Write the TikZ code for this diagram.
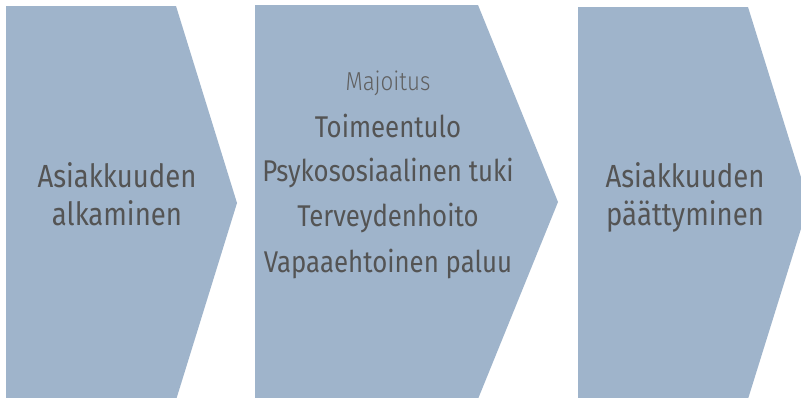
\documentclass[tikz,border=0pt]{standalone}
\usepackage{fontspec}
\setmainfont{Fira Sans}[FakeStretch=0.86]
\newfontfamily\lightfam{Fira Sans}[UprightFont=* Light, FakeStretch=0.86]
\definecolor{chevfill}{RGB}{159,180,203}
\definecolor{txtdark}{RGB}{84,84,84}
\definecolor{txtlight}{RGB}{96,96,96}
\begin{document}
\begin{tikzpicture}[x=1pt,y=-1pt,
  chev/.style={fill=chevfill},
  outertxt/.style={inner sep=0pt,anchor=base,text=txtdark,font=\fontsize{32}{38}\selectfont},
  midtxt/.style={inner sep=0pt,anchor=base,text=txtdark,font=\fontsize{30}{36}\selectfont},
  smalltxt/.style={inner sep=0pt,anchor=base,text=txtlight,font=\lightfam\fontsize{26}{30}\selectfont}]
\useasboundingbox (0,0) rectangle (801,397);
\clip (0,0) rectangle (801,397);
\fill[white] (0,0) rectangle (801,397);
\fill[chev] (6,6) -- (176,6) -- (237,203) -- (176,400) -- (6,400) -- cycle;
\fill[chev] (255,5) -- (478,5) -- (558,202) -- (478,399) -- (255,399) -- cycle;
\fill[chev] (578,7) -- (748,7) -- (809,203) -- (748,399) -- (578,399) -- cycle;
\node[outertxt] (a1) at (117,187) {Asiakkuuden};
\node[outertxt] (a2) at (117,225) {alkaminen};
\node[smalltxt] (b0) at (388,90) {Majoitus};
\node[midtxt] (b1) at (388,137) {Toimeentulo};
\node[midtxt] (b2) at (388,181) {Psykososiaalinen tuki};
\node[midtxt] (b3) at (388,226) {Terveydenhoito};
\node[midtxt] (b4) at (388,272) {Vapaaehtoinen paluu};
\node[outertxt] (c1) at (685,187) {Asiakkuuden};
\node[outertxt] (c2) at (685,225) {päättyminen};
\end{tikzpicture}
\end{document}
